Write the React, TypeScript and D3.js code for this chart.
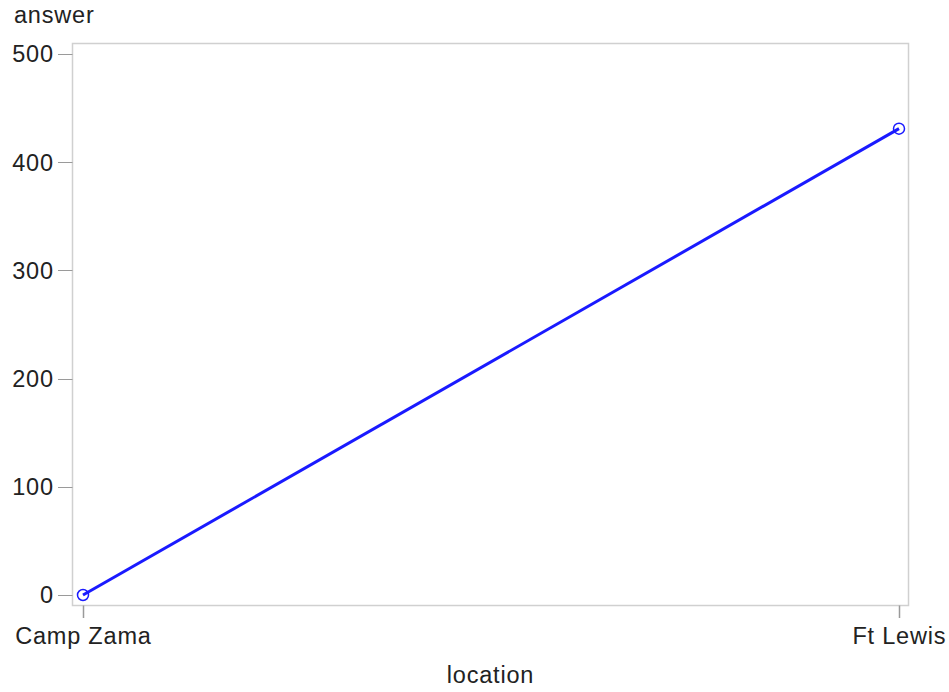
import React from "react";
import * as d3 from "d3";

const categories = ["Camp Zama", "Ft Lewis"];
const values = [0, 431];
const yTicks = [0, 100, 200, 300, 400, 500];

export default function App() {
  const W = 949, H = 692;
  const left = 72.5, right = 908.5, top = 43.5, bottom = 605.5;
  const x = d3.scalePoint<string>().domain(categories).range([83, 899]);
  const y = d3.scaleLinear().domain([0, 500]).range([595, 54]);
  const line = d3.line<number>().x((_, i) => x(categories[i])!).y(d => y(d));
  const font = "Arial, 'Liberation Sans', sans-serif";
  const txt = "#222";
  const fs = 23.5;
  const ls = 0.8;
  return (
    <svg width={W} height={H} style={{ position: "absolute", left: 0, top: 0, background: "#fff" }} fontFamily={font} letterSpacing={ls}>
      <rect x={left} y={top} width={right - left} height={bottom - top} fill="none" stroke="#d0d0d0" strokeWidth={1.5} />
      {yTicks.map(t => (
        <g key={t}>
          <line x1={58} x2={left} y1={Math.round(y(t)) + 0.5} y2={Math.round(y(t)) + 0.5} stroke="#9a9a9a" strokeWidth={1} />
          <text x={53.8} y={y(t)} dy="0.36em" textAnchor="end" fontSize={fs} fill={txt}>{t}</text>
        </g>
      ))}
      {categories.map(c => (
        <g key={c}>
          <line x1={Math.round(x(c)!) + 0.5} x2={Math.round(x(c)!) + 0.5} y1={bottom} y2={618} stroke="#9a9a9a" strokeWidth={1.5} />
          <text x={x(c)! + 0.4} y={644} textAnchor="middle" fontSize={fs} fill={txt}>{c}</text>
        </g>
      ))}
      <text x={14} y={23} fontSize={fs} fill={txt}>answer</text>
      <text x={(left + right) / 2} y={683} textAnchor="middle" fontSize={fs} fill={txt}>location</text>
      <path d={line(values)!} fill="none" stroke="#1a1aff" strokeWidth={3} />
      {values.map((v, i) => (
        <circle key={i} cx={x(categories[i])!} cy={y(v)} r={5.5} fill="none" stroke="#1a1aff" strokeWidth={1.5} />
      ))}
    </svg>
  );
}
